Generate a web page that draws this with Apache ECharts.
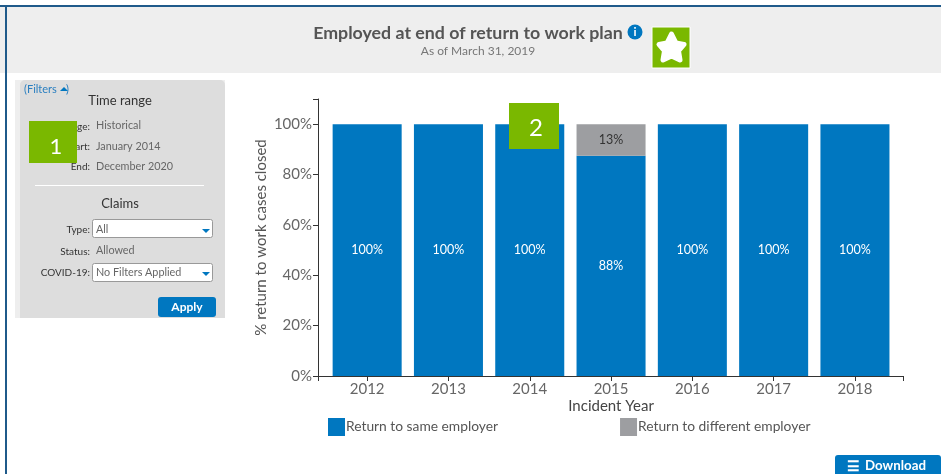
<!DOCTYPE html>
<html>
<head>
<meta charset="utf-8">
<style>html,body{margin:0;padding:0;background:#fff}#c{width:941px;height:474px}</style>
<script src="https://cdn.jsdelivr.net/npm/echarts@6/dist/echarts.min.js"></script>
</head>
<body>
<div id="c"></div>
<script>
const categories = ['2012','2013','2014','2015','2016','2017','2018'];
const sameEmployer = [100,100,100,87.5,100,100,100];
const differentEmployer = [null,null,null,12.5,null,null,null];
const seriesNames = ['Return to same employer','Return to different employer'];
const FONT = 'Lato, "Noto Sans", sans-serif';
const BLUE = '#0077c0', GREY = '#9d9ea1', GREEN = '#7ab800', NAVY = '#1f5a8a', AXIS = '#333333';

const rect = (x,y,width,height,fill,extra={}) => ({type:'rect',silent:true,z:extra.z||50,
  shape:{x,y,width,height,r:extra.r||0},style:{fill,stroke:extra.stroke||null,lineWidth:extra.stroke?1:0}});
const text = (x,y,t,size,fill,align='left',weight='normal',z=60) => ({type:'text',silent:true,z,x,y,
  style:{text:t,fontSize:size,fill,align,verticalAlign:'middle',fontFamily:FONT,fontWeight:weight}});
const arrow = (x,y,up) => ({type:'polygon',silent:true,z:61,
  shape:{points:up?[[x,y+4],[x+8,y+4],[x+4,y]]:[[x,y],[x+8,y],[x+4,y+4]]},style:{fill:BLUE}});
const seg = (x1,y1,x2,y2) => ({type:'line',silent:true,z:40,shape:{x1,y1,x2,y2},style:{stroke:AXIS,lineWidth:1}});

const chrome = [
  rect(0,7,941,66,'#eeeeee',{z:1}),
  rect(0,5,941,2,NAVY,{z:2}),
  rect(5,5,2,469,NAVY,{z:2}),
  text(468,33,'Employed at end of return to work plan',17.8,'#555555','center','bold'),
  text(478,51.5,'As of March 31, 2019',12,'#777777','center'),
  {type:'circle',silent:true,z:60,shape:{cx:635,cy:32,r:7.5},style:{fill:BLUE}},
  text(635,32,'i',12,'#ffffff','center','bold'),
  rect(652,27,38,41,GREEN,{stroke:'#ffffff'}),
  {type:'polygon',silent:true,z:61,shape:{points:[[671.5,34],[676,43],[684,44.5],[678.5,51],[680,60],[671.5,56],[663,60],[664.5,51],[659,44.5],[667,43]]},
   style:{fill:'#fff',stroke:'#fff',lineWidth:5,lineJoin:'round'}},

  rect(15,80,210,238,'#eeeeee',{z:3}),
  rect(20,80,205,238,'#dddddd',{z:4,r:[5,5,0,0]}),
  text(24,89.5,'(Filters',11,'#2a7fc0'),
  arrow(60,87,true),
  text(66,89.5,')',11,'#2a7fc0'),
  text(120,100.5,'Time range',13,'#333333','center'),
  text(90,127,'Range:',10,'#333333','right'),
  text(96,126,'Historical',10.8,'#666666'),
  text(90,147,'Start:',10,'#333333','right'),
  text(96,147,'January 2014',10.8,'#666666'),
  text(90,167,'End:',10,'#333333','right'),
  text(96,167,'December 2020',10.8,'#666666'),
  rect(35,185,169,1,'#ffffff'),
  text(120,203.5,'Claims',13,'#333333','center'),
  text(90,230,'Type:',10,'#333333','right'),
  rect(92.5,219.5,120,18,'#ffffff',{stroke:'#999999',r:2}),
  text(96,230,'All',10.8,'#666666'),
  arrow(202,229),
  text(90,252,'Status:',10,'#333333','right'),
  text(96,251,'Allowed',10.8,'#666666'),
  text(90,273,'COVID-19:',10,'#333333','right'),
  rect(92.5,263.5,120,18,'#ffffff',{stroke:'#999999',r:2}),
  text(96,273,'No Filters Applied',10.8,'#666666'),
  arrow(202,272),
  rect(158,297,58,20,BLUE,{r:3}),
  text(187,307,'Apply',12,'#ffffff','center','bold'),

  rect(835,455,106,24,BLUE,{r:3}),
  text(847,466,'☰',14,'#ffffff','left','bold'),
  text(865,466,'Download',13.3,'#ffffff','left','bold'),

  rect(29,121,48,42,GREEN,{z:70}),
  text(56,147,'1',22,'#ffffff','center','normal',71),
  rect(509,103,50,46,GREEN,{z:70}),
  text(536,128,'2',24,'#ffffff','center','normal',71),

  seg(318,376.5,327,376.5),
  seg(895,376.5,904,376.5),
  seg(318.5,376,318.5,381),
  seg(903.5,376,903.5,381),
  seg(313,99.5,318,99.5)
];

const chart = echarts.init(document.getElementById('c'));
const pct = p => Math.round(p.value) + '%';
chart.setOption({
  animation:false,
  textStyle:{fontFamily:FONT},
  grid:{left:326.5,top:99,width:569.1,height:277},
  legend:{left:328,top:418,padding:0,itemWidth:17,itemHeight:18,itemGap:122,icon:'rect',selectedMode:false,
    data:seriesNames,textStyle:{fontSize:13.8,color:'#555555',padding:[2,0,0,-4]}},
  xAxis:{type:'category',data:categories,
    name:'Incident Year',nameLocation:'middle',nameGap:22.5,nameMoveOverlap:false,
    nameTextStyle:{fontSize:15,color:'#444444'},
    axisLine:{lineStyle:{color:AXIS}},
    axisTick:{show:true,alignWithLabel:true,length:5,lineStyle:{color:AXIS}},
    axisLabel:{fontSize:15,color:'#666666',margin:6}},
  yAxis:{type:'value',min:0,max:110,interval:20,offset:8.5,
    name:'% return to work cases closed',nameLocation:'middle',nameGap:49.5,nameMoveOverlap:false,
    nameTextStyle:{fontSize:15,color:'#555555'},
    axisLine:{show:true,lineStyle:{color:AXIS}},
    axisTick:{show:true,length:5,lineStyle:{color:AXIS}},
    axisLabel:{fontSize:15,color:'#666666',margin:6,showMaxLabel:false,formatter:'{value}%'},
    splitLine:{show:false}},
  series:[
    {name:seriesNames[0],type:'bar',stack:'t',data:sameEmployer,barWidth:'84.9%',
     itemStyle:{color:BLUE},
     label:{show:true,position:'inside',formatter:pct,fontSize:12.5,color:'#ffffff'}},
    {name:seriesNames[1],type:'bar',stack:'t',data:differentEmployer,barWidth:'84.9%',
     itemStyle:{color:GREY},
     label:{show:true,position:'inside',formatter:pct,fontSize:12.5,color:'#333333'}}
  ],
  graphic:{elements:chrome}
});
</script>
</body>
</html>
